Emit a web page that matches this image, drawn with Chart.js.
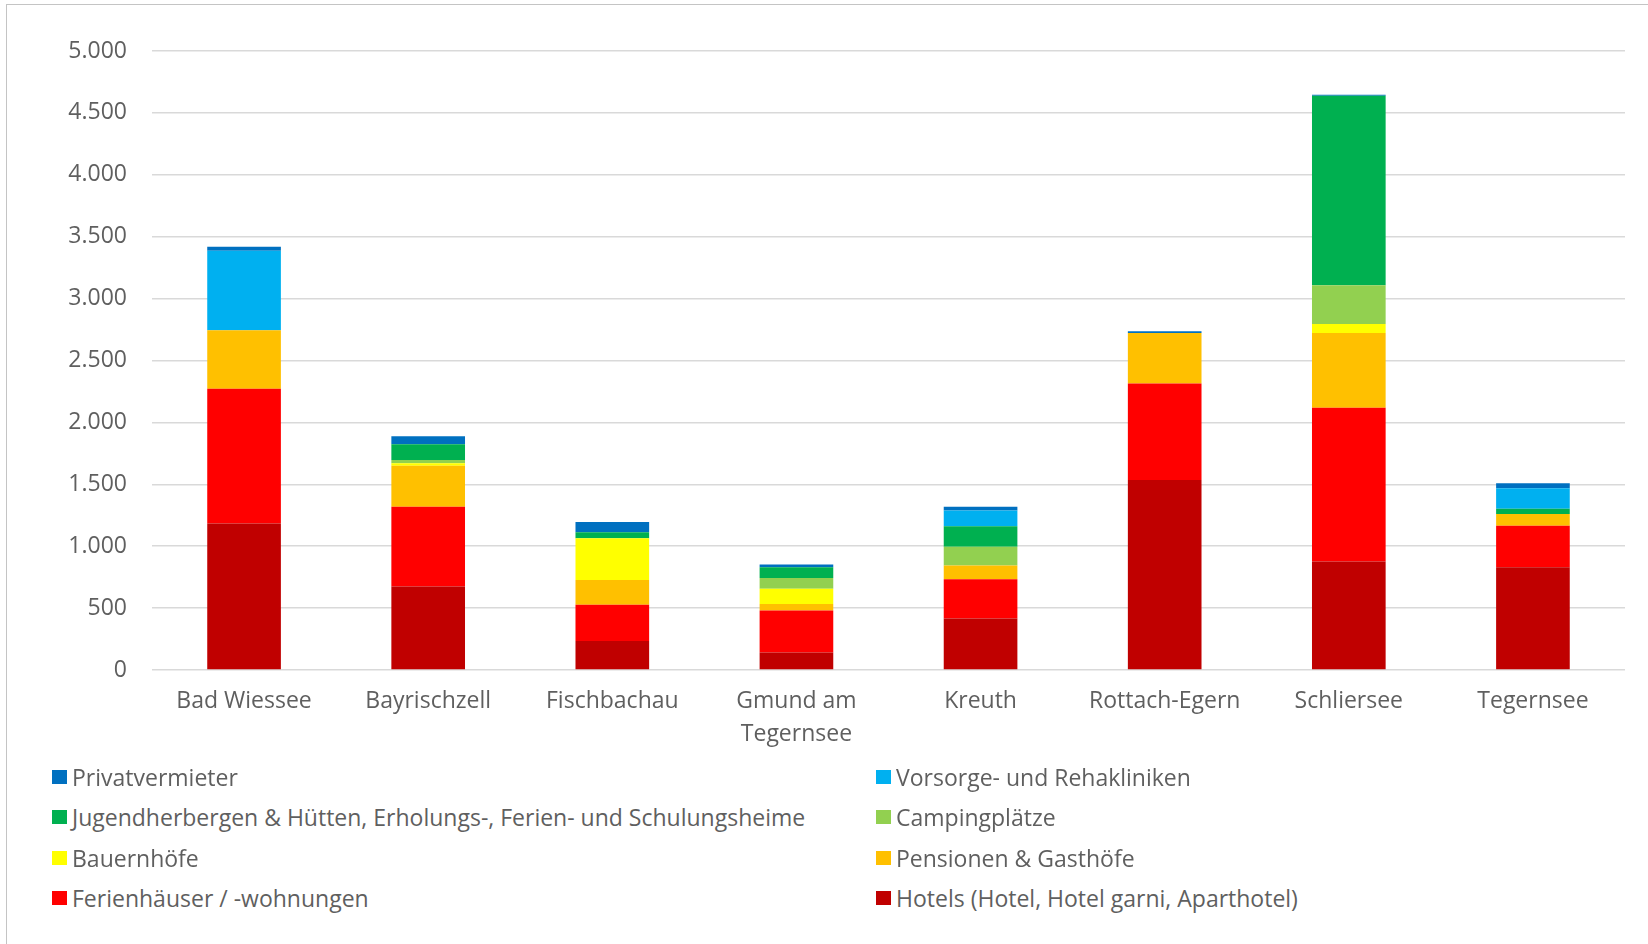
<!DOCTYPE html>
<html>
<head>
<meta charset="utf-8">
<script src="https://cdn.jsdelivr.net/npm/chart.js@4.4.1/dist/chart.umd.min.js"></script>
<style>
  html, body { margin: 0; padding: 0; background: #fff; }
  body { width: 1648px; height: 944px; position: relative; overflow: hidden; font-family: "Open Sans", Lato, sans-serif; }
  #frame { position: absolute; left: 6px; top: 4px; width: 1700px; height: 1000px; border-top: 1.5px solid #c4c4c4; border-left: 1.5px solid #c4c4c4; }
  #wrap { position: absolute; left: 0; top: 0; width: 1648px; height: 770px; }
  #legend { position: absolute; left: 52px; top: 757px; width: 1560px; }
  .item { position: absolute; height: 40px; display: flex; align-items: center; font-size: 23px; font-weight: 400; color: #5f5f5f; white-space: nowrap; }
  .box { width: 15px; height: 14px; margin-right: 5px; flex: none; }
</style>
</head>
<body>
<div id="frame"></div>
<div id="wrap"><canvas id="canvas-1"></canvas></div>
<div id="legend"></div>
<script>
const gemeinden = ['Bad Wiessee', 'Bayrischzell', 'Fischbachau', ['Gmund am', 'Tegernsee'], 'Kreuth', 'Rottach-Egern', 'Schliersee', 'Tegernsee']

const hotels      = [1184, 675, 235, 141, 415, 1534, 877, 830]
const ferien      = [1087, 643, 292, 339, 318, 780, 1242, 336]
const pensionen   = [473, 332, 199, 54, 112, 408, 603, 94]
const bauernhoefe = [0, 21, 339, 123, 0, 0, 72, 0]
const camping     = [0, 26, 0, 87, 151, 0, 314, 0]
const jugend      = [0, 126, 47, 86, 166, 0, 1531, 43]
const vorsorge    = [642, 0, 0, 0, 127, 0, 0, 166]
const privat      = [33, 65, 83, 22, 29, 14, 7, 40]

const yTicks = [0, 500, 1000, 1500, 2000, 2500, 3000, 3500, 4000, 4500, 5000]

const serien = [
  { label: 'Hotels (Hotel, Hotel garni, Aparthotel)', data: hotels, color: '#C00000' },
  { label: 'Ferienhäuser / -wohnungen', data: ferien, color: '#FF0000' },
  { label: 'Pensionen & Gasthöfe', data: pensionen, color: '#FFC000' },
  { label: 'Bauernhöfe', data: bauernhoefe, color: '#FFFF00' },
  { label: 'Campingplätze', data: camping, color: '#92D050' },
  { label: 'Jugendherbergen & Hütten, Erholungs-, Ferien- und Schulungsheime', data: jugend, color: '#00B050' },
  { label: 'Vorsorge- und Rehakliniken', data: vorsorge, color: '#00B0F0' },
  { label: 'Privatvermieter', data: privat, color: '#0070C0' }
]

const tausender = v => String(v).replace(/\B(?=(\d{3})+(?!\d))/g, '.')

const fontMain = { family: 'Open Sans', size: 23, weight: 400, lineHeight: 1.43 }

const barChart = new Chart(document.getElementById('canvas-1'), {
  type: 'bar',
  data: {
    labels: gemeinden,
    datasets: serien.map(s => ({
      label: s.label,
      data: s.data,
      backgroundColor: s.color,
      borderWidth: 0,
      categoryPercentage: 0.4,
      barPercentage: 1
    }))
  },
  options: {
    responsive: true,
    maintainAspectRatio: false,
    animation: false,
    layout: {
      padding: { top: 51, right: 23, left: 0, bottom: 0 }
    },
    plugins: {
      legend: { display: false },
      tooltip: { enabled: false }
    },
    scales: {
      x: {
        stacked: true,
        grid: { display: false },
        border: { display: false },
        ticks: {
          color: '#5f5f5f',
          font: fontMain,
          padding: 7,
          maxRotation: 0,
          autoSkip: false
        },
        afterFit: function(scale) { scale.height = 100 }
      },
      y: {
        stacked: true,
        min: 0,
        max: 5000,
        afterBuildTicks: function(scale) { scale.ticks = yTicks.map(v => ({ value: v })) },
        grid: { color: '#d9d9d9', lineWidth: 1.5, drawTicks: false },
        border: { display: false },
        ticks: {
          color: '#5f5f5f',
          font: fontMain,
          padding: 25,
          callback: v => tausender(v)
        },
        afterFit: function(scale) { scale.width = 152 }
      }
    }
  }
});

// Legende: zwei Spalten, umgekehrte Reihenfolge wie im Original
const legendEl = document.getElementById('legend')
serien.slice().reverse().forEach((s, i) => {
  const item = document.createElement('div')
  item.className = 'item'
  item.style.left = (i % 2 === 0 ? 0 : 824) + 'px'
  item.style.top = (Math.floor(i / 2) * 40.3) + 'px'
  const box = document.createElement('span')
  box.className = 'box'
  box.style.background = s.color
  const txt = document.createElement('span')
  txt.textContent = s.label
  item.appendChild(box)
  item.appendChild(txt)
  legendEl.appendChild(item)
})
</script>
</body>
</html>
